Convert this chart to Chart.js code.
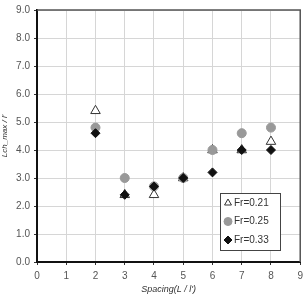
<!DOCTYPE html>
<html>
<head>
<meta charset="utf-8">
<script src="https://cdn.jsdelivr.net/npm/chart.js@4"></script>
<style>
  html, body { margin: 0; padding: 0; background: #fff; }
  #wrap { width: 308px; height: 296px; }
</style>
</head>
<body>
<div id="wrap"><canvas id="chart-1" width="308" height="296"></canvas></div>
<script>
// spacing L/l' on x, Lch_max/l' on y
const spacing = [2, 3, 4, 5, 6, 7, 8];
const fr021 = [5.4, 2.4, 2.4, 3.0, 4.0, 4.0, 4.3];
const fr025 = [4.8, 3.0, 2.7, 3.0, 4.0, 4.6, 4.8];
const fr033 = [4.6, 2.4, 2.7, 3.0, 3.2, 4.0, 4.0];
const seriesLabels = ['Fr=0.21', 'Fr=0.25', 'Fr=0.33'];
const xTicks = [0, 1, 2, 3, 4, 5, 6, 7, 8, 9];
const yTicks = [0, 1, 2, 3, 4, 5, 6, 7, 8, 9];

const toPoints = vals => spacing.map((x, i) => ({ x: x, y: vals[i] }));
const FONT = "'Liberation Sans', Arial, sans-serif";

// frame on top and right + legend box inside the plot
const framePlugin = {
    id: 'frame',
    afterDatasetsDraw(chart) {
        const { ctx, chartArea: a } = chart;
        ctx.save();
        ctx.strokeStyle = '#555';
        ctx.lineWidth = 1.5;
        ctx.beginPath();
        ctx.moveTo(a.left, a.top);
        ctx.lineTo(a.right, a.top);
        ctx.lineTo(a.right, a.bottom);
        ctx.stroke();

        // legend
        const bx = a.left + 183, by = a.top + 183, bw = 60, bh = 57;
        ctx.fillStyle = '#fff';
        ctx.fillRect(bx, by, bw, bh);
        ctx.strokeStyle = '#444';
        ctx.lineWidth = 1;
        ctx.strokeRect(bx + 0.5, by + 0.5, bw, bh);
        ctx.font = '10px ' + FONT;
        ctx.textBaseline = 'middle';
        chart.data.datasets.forEach((ds, i) => {
            const y = by + 10 + i * 18.5;
            ctx.fillStyle = ds.pointBackgroundColor;
            ctx.strokeStyle = ds.pointBorderColor;
            ctx.lineWidth = ds.pointBorderWidth;
            Chart.helpers.drawPoint(ctx, { pointStyle: ds.pointStyle, radius: 4, borderWidth: ds.pointBorderWidth }, bx + 8, y);
            ctx.fillStyle = '#333';
            ctx.fillText(ds.label, bx + 14, y);
        });
        ctx.restore();
    }
};

const ctx1 = document.getElementById('chart-1');
const chart1 = new Chart(ctx1, {
    type: 'scatter',
    data: {
        datasets: [{
            label: seriesLabels[0],
            data: toPoints(fr021),
            pointStyle: 'triangle',
            pointRadius: 5.5,
            pointBackgroundColor: '#fff',
            pointBorderColor: '#333',
            pointBorderWidth: 1,
            order: 2
        }, {
            label: seriesLabels[1],
            data: toPoints(fr025),
            pointStyle: 'circle',
            pointRadius: 4.5,
            pointBackgroundColor: '#999',
            pointBorderColor: '#999',
            pointBorderWidth: 1,
            order: 1
        }, {
            label: seriesLabels[2],
            data: toPoints(fr033),
            pointStyle: 'rectRot',
            pointRadius: 4.5,
            pointBackgroundColor: '#111',
            pointBorderColor: '#111',
            pointBorderWidth: 1,
            order: 0
        }]
    },
    options: {
        responsive: false,
        animation: false,
        layout: { padding: { top: 5, right: 4, left: 0, bottom: 0 } },
        scales: {
            x: {
                type: 'linear',
                min: 0,
                max: 9,
                afterBuildTicks: s => { s.ticks = xTicks.map(v => ({ value: v })); },
                afterFit: s => { s.height = 34; },
                ticks: {
                    color: '#555',
                    font: { family: FONT, size: 10 },
                    padding: 5,
                    maxRotation: 0
                },
                grid: { color: '#d6d6d6', lineWidth: 1, tickLength: 3, tickColor: '#333' },
                border: { color: '#111', width: 2 },
                title: {
                    display: true,
                    text: "Spacing(L / l')",
                    color: '#333',
                    font: { family: FONT, size: 9, style: 'italic' },
                    padding: { top: 0, bottom: 1 }
                }
            },
            y: {
                min: 0,
                max: 9,
                afterBuildTicks: s => { s.ticks = yTicks.map(v => ({ value: v })); },
                afterFit: s => { s.width = 37; },
                ticks: {
                    color: '#555',
                    font: { family: FONT, size: 10 },
                    padding: 4,
                    callback: v => v.toFixed(1)
                },
                grid: { color: '#d6d6d6', lineWidth: 1, tickLength: 3, tickColor: '#333' },
                border: { color: '#111', width: 2 },
                title: {
                    display: true,
                    text: "Lch_max / l'",
                    color: '#333',
                    font: { family: FONT, size: 8, style: 'italic' },
                    padding: { top: 0, bottom: 0 }
                }
            }
        },
        plugins: {
            legend: { display: false },
            tooltip: { enabled: false }
        }
    },
    plugins: [framePlugin]
});
</script>
</body>
</html>
